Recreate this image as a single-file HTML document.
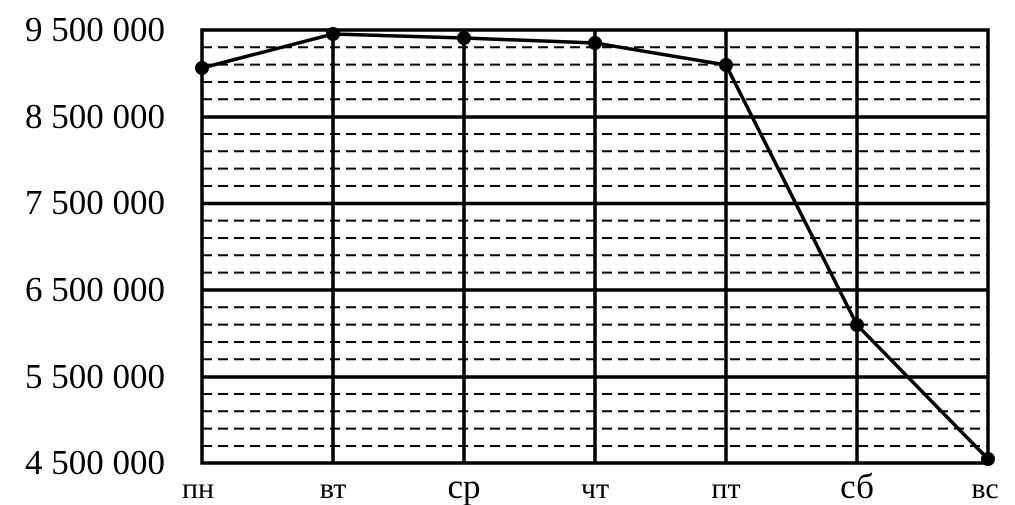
<!DOCTYPE html><html><head><meta charset="utf-8"><style>body{margin:0;background:#fff}svg{display:block}text{font-family:"Liberation Serif","DejaVu Serif",serif;fill:#000}</style></head><body>
<svg width="1015" height="505" viewBox="0 0 1015 505">
<g stroke="#000" stroke-width="2" stroke-dasharray="10,6">
<line x1="202" x2="988" y1="47.3" y2="47.3"/><line x1="202" x2="988" y1="64.6" y2="64.6"/><line x1="202" x2="988" y1="82" y2="82"/><line x1="202" x2="988" y1="99.3" y2="99.3"/>
<line x1="202" x2="988" y1="134" y2="134"/><line x1="202" x2="988" y1="151.3" y2="151.3"/><line x1="202" x2="988" y1="168.6" y2="168.6"/><line x1="202" x2="988" y1="186" y2="186"/>
<line x1="202" x2="988" y1="220.6" y2="220.6"/><line x1="202" x2="988" y1="238" y2="238"/><line x1="202" x2="988" y1="255.3" y2="255.3"/><line x1="202" x2="988" y1="272.6" y2="272.6"/>
<line x1="202" x2="988" y1="307.3" y2="307.3"/><line x1="202" x2="988" y1="324.6" y2="324.6"/><line x1="202" x2="988" y1="342" y2="342"/><line x1="202" x2="988" y1="359.3" y2="359.3"/>
<line x1="202" x2="988" y1="394" y2="394"/><line x1="202" x2="988" y1="411.3" y2="411.3"/><line x1="202" x2="988" y1="428.6" y2="428.6"/><line x1="202" x2="988" y1="446" y2="446"/>
</g>
<g stroke="#000" stroke-width="3.5">
<line x1="202" x2="988" y1="117" y2="117"/><line x1="202" x2="988" y1="203.5" y2="203.5"/><line x1="202" x2="988" y1="290" y2="290"/><line x1="202" x2="988" y1="377" y2="377"/>
<line x1="333" x2="333" y1="30" y2="463"/><line x1="464" x2="464" y1="30" y2="463"/><line x1="595" x2="595" y1="30" y2="463"/><line x1="726" x2="726" y1="30" y2="463"/><line x1="857" x2="857" y1="30" y2="463"/>
<rect x="202" y="30" width="786" height="433" fill="none"/>
</g>
<polyline fill="none" stroke="#000" stroke-width="3.5" points="202,68 333,34 464,38 595,43 726,65 857,325 988,459"/>
<g fill="#000"><circle cx="202" cy="68" r="7"/><circle cx="333" cy="34" r="7"/><circle cx="464" cy="38" r="7"/><circle cx="595" cy="43" r="7"/><circle cx="726" cy="65" r="7"/><circle cx="857" cy="325" r="7"/><circle cx="988" cy="459" r="7"/></g>
<g font-size="35" text-anchor="end">
<text x="165" y="41">9 500 000</text><text x="165" y="128">8 500 000</text><text x="165" y="214">7 500 000</text><text x="165" y="301">6 500 000</text><text x="165" y="388">5 500 000</text><text x="165" y="474">4 500 000</text>
</g>
<g font-size="30" text-anchor="middle">
<text x="198" y="498">пн</text><text x="333" y="498">вт</text><text x="464" y="498" font-size="35">ср</text><text x="595" y="498">чт</text><text x="726" y="498">пт</text><text x="857" y="498" font-size="35">сб</text><text x="985" y="498">вс</text>
</g>
</svg></body></html>
